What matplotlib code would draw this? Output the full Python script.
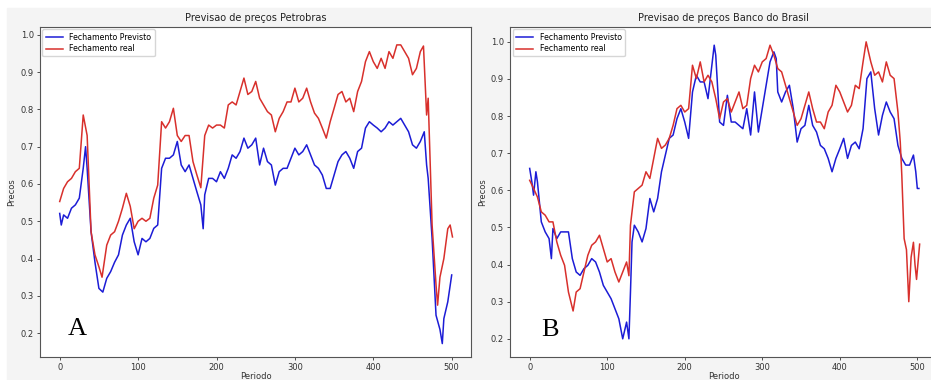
import matplotlib.pyplot as plt

# Petrobras - periodo e precos normalizados
petr_x_prev = [0, 2, 5, 10, 15, 20, 25, 30, 33, 35, 40, 45, 50, 55, 60, 65, 70, 75, 80, 85,
               90, 95, 100, 105, 110, 115, 120, 125, 130, 135, 140, 145, 150, 155, 160, 165,
               170, 175, 180, 183, 185, 190, 195, 200, 205, 210, 215, 220, 225, 230, 235,
               240, 245, 250, 255, 260, 265, 270, 275, 280, 285, 290, 295, 300, 305, 310,
               315, 320, 325, 330, 335, 340, 345, 350, 355, 360, 365, 370, 375, 380, 385,
               390, 395, 400, 405, 410, 415, 420, 425, 430, 435, 440, 445, 450, 455, 460,
               465, 468, 470, 475, 480, 485, 488, 490, 495, 500]
petr_prev = [0.521, 0.49, 0.517, 0.508, 0.535, 0.544, 0.562, 0.642, 0.70, 0.642, 0.472, 0.39,
             0.32, 0.31, 0.347, 0.365, 0.39, 0.41, 0.463, 0.49, 0.508, 0.445, 0.41, 0.454,
             0.445, 0.454, 0.481, 0.49, 0.642, 0.669, 0.669, 0.678, 0.714, 0.651, 0.633,
             0.651, 0.615, 0.579, 0.544, 0.48, 0.571, 0.615, 0.615, 0.606, 0.633, 0.615,
             0.642, 0.678, 0.669, 0.687, 0.723, 0.696, 0.705, 0.723, 0.651, 0.696, 0.66,
             0.651, 0.597, 0.633, 0.642, 0.642, 0.669, 0.696, 0.678, 0.687, 0.705, 0.678,
             0.651, 0.642, 0.624, 0.588, 0.588, 0.624, 0.66, 0.678, 0.687, 0.669, 0.642,
             0.687, 0.696, 0.75, 0.767, 0.758, 0.75, 0.74, 0.75, 0.767, 0.758, 0.767, 0.776,
             0.758, 0.74, 0.705, 0.696, 0.714, 0.74, 0.651, 0.615, 0.454, 0.248, 0.21,
             0.172, 0.239, 0.284, 0.356]

petr_x_real = [0, 5, 10, 15, 20, 25, 30, 35, 40, 45, 50, 54, 60, 65, 70, 75, 80, 85, 90, 95,
               100, 105, 110, 115, 120, 125, 130, 135, 140, 145, 150, 155, 160, 165, 170,
               175, 180, 185, 190, 195, 200, 205, 210, 215, 220, 225, 230, 235, 240, 245,
               250, 255, 260, 265, 270, 275, 280, 285, 290, 295, 300, 305, 310, 315, 320,
               325, 330, 335, 340, 345, 350, 355, 360, 365, 370, 375, 380, 385, 390, 395,
               400, 405, 410, 415, 420, 425, 430, 435, 440, 445, 450, 455, 460, 464, 468,
               470, 475, 480, 482, 485, 490, 495, 498, 501]
petr_real = [0.553, 0.588, 0.606, 0.615, 0.633, 0.642, 0.785, 0.73, 0.472, 0.41, 0.378,
             0.35, 0.436, 0.463, 0.472, 0.5, 0.535, 0.575, 0.54, 0.48, 0.5, 0.508, 0.5,
             0.508, 0.562, 0.597, 0.767, 0.75, 0.767, 0.803, 0.73, 0.714, 0.73, 0.73, 0.66,
             0.624, 0.59, 0.73, 0.758, 0.75, 0.758, 0.758, 0.75, 0.812, 0.82, 0.812, 0.848,
             0.884, 0.84, 0.848, 0.875, 0.83, 0.812, 0.794, 0.785, 0.74, 0.776, 0.794, 0.82,
             0.82, 0.857, 0.82, 0.83, 0.857, 0.82, 0.79, 0.776, 0.75, 0.723, 0.767, 0.803,
             0.84, 0.848, 0.82, 0.83, 0.794, 0.848, 0.875, 0.928, 0.955, 0.928, 0.91, 0.937,
             0.91, 0.955, 0.937, 0.973, 0.973, 0.955, 0.937, 0.893, 0.91, 0.955, 0.97, 0.785,
             0.83, 0.49, 0.33, 0.275, 0.35, 0.40, 0.48, 0.49, 0.458]

# Banco do Brasil
bb_x_prev = [0, 3, 5, 8, 10, 15, 20, 25, 28, 30, 35, 40, 45, 50, 55, 60, 65, 70, 75, 80,
             85, 90, 95, 100, 105, 110, 115, 120, 125, 128, 130, 132, 135, 140, 145, 150,
             155, 160, 165, 170, 175, 180, 185, 190, 195, 200, 205, 210, 215, 220, 225,
             230, 235, 238, 240, 245, 250, 255, 260, 265, 270, 275, 280, 285, 290, 295,
             300, 305, 310, 315, 318, 320, 325, 330, 335, 340, 345, 350, 355, 360, 365,
             370, 375, 380, 385, 390, 395, 400, 405, 410, 415, 420, 425, 430, 435, 440,
             445, 450, 455, 460, 465, 470, 475, 480, 485, 490, 495, 498, 500, 502]
bb_prev = [0.659, 0.62, 0.587, 0.65, 0.623, 0.515, 0.488, 0.47, 0.416, 0.497, 0.47, 0.488,
           0.488, 0.488, 0.416, 0.38, 0.371, 0.389, 0.398, 0.416, 0.407, 0.38, 0.344, 0.326,
           0.308, 0.281, 0.254, 0.20, 0.245, 0.20, 0.326, 0.461, 0.506, 0.488, 0.461,
           0.497, 0.578, 0.542, 0.578, 0.65, 0.695, 0.74, 0.749, 0.793, 0.82, 0.784, 0.74,
           0.865, 0.91, 0.892, 0.892, 0.847, 0.937, 0.991, 0.964, 0.784, 0.775, 0.856,
           0.784, 0.784, 0.775, 0.766, 0.82, 0.749, 0.865, 0.757, 0.82, 0.883, 0.946, 0.973,
           0.955, 0.865, 0.838, 0.865, 0.883, 0.82, 0.73, 0.766, 0.775, 0.829, 0.775, 0.757,
           0.721, 0.712, 0.686, 0.65, 0.686, 0.712, 0.74, 0.686, 0.721, 0.73, 0.712, 0.766,
           0.901, 0.919, 0.82, 0.749, 0.802, 0.838, 0.811, 0.793, 0.721, 0.686, 0.668,
           0.668, 0.695, 0.65, 0.605, 0.605]

bb_x_real = [0, 5, 10, 15, 20, 25, 30, 35, 40, 45, 50, 56, 60, 65, 70, 75, 80, 85, 90, 95,
             100, 105, 110, 115, 120, 125, 128, 130, 135, 140, 145, 150, 155, 160, 165,
             170, 175, 180, 185, 190, 195, 200, 205, 210, 215, 220, 225, 230, 235, 240,
             245, 250, 255, 260, 265, 270, 275, 280, 285, 290, 295, 300, 305, 310, 315,
             320, 325, 330, 335, 340, 345, 350, 355, 360, 365, 370, 375, 380, 385, 390,
             395, 400, 405, 410, 415, 420, 425, 430, 434, 440, 445, 450, 455, 460, 465,
             470, 475, 478, 480, 483, 486, 489, 492, 495, 497, 499, 503]
bb_real = [0.627, 0.605, 0.582, 0.542, 0.533, 0.515, 0.515, 0.461, 0.425, 0.398, 0.326,
           0.275, 0.326, 0.335, 0.38, 0.425, 0.452, 0.461, 0.479, 0.443, 0.407, 0.416, 0.38,
           0.353, 0.38, 0.407, 0.37, 0.506, 0.596, 0.605, 0.614, 0.65, 0.632, 0.686, 0.74,
           0.713, 0.722, 0.74, 0.775, 0.82, 0.829, 0.811, 0.82, 0.937, 0.901, 0.946, 0.892,
           0.91, 0.892, 0.847, 0.793, 0.838, 0.847, 0.811, 0.838, 0.865, 0.82, 0.829, 0.901,
           0.937, 0.919, 0.946, 0.955, 0.991, 0.964, 0.928, 0.919, 0.883, 0.847, 0.811,
           0.775, 0.793, 0.829, 0.865, 0.82, 0.784, 0.784, 0.766, 0.811, 0.829, 0.883,
           0.865, 0.838, 0.811, 0.829, 0.883, 0.874, 0.946, 1.0, 0.946, 0.91, 0.919, 0.892,
           0.946, 0.91, 0.901, 0.811, 0.73, 0.64, 0.47, 0.44, 0.30, 0.42, 0.46, 0.40, 0.36,
           0.455]

painel_cor = '#f4f4f4'
cor_prev = '#1c1cd6'
cor_real = '#d8302c'

fig = plt.figure(figsize=(9.31, 3.80), dpi=100, facecolor='white')
fig.patches.append(plt.Rectangle((7 / 931, 0), 1, 372 / 380, transform=fig.transFigure,
                                 color=painel_cor, zorder=-10))

paineis = [
    ([40.1 / 931, 23 / 380, 431.2 / 931, 330 / 380], 'Previsao de preços Petrobras',
     petr_x_prev, petr_prev, petr_x_real, petr_real, (0.136, 1.021), 'A', (0.065, 0.067)),
    ([510.3 / 931, 23 / 380, 426.4 / 931, 330 / 380], 'Previsao de preços Banco do Brasil',
     bb_x_prev, bb_prev, bb_x_real, bb_real, (0.151, 1.040), 'B', (0.072, 0.064)),
]

for pos, titulo, xp, yp, xr, yr, lim, letra, lpos in paineis:
    ax = fig.add_axes(pos)
    ax.plot(xp, yp, color=cor_prev, lw=1.1, label='Fechamento Previsto')
    ax.plot(xr, yr, color=cor_real, lw=1.1, label='Fechamento real')
    ax.set_xlim(-25, 525)
    ax.set_ylim(*lim)
    ax.set_xticks([0, 100, 200, 300, 400, 500])
    ax.set_yticks([0.2, 0.3, 0.4, 0.5, 0.6, 0.7, 0.8, 0.9, 1.0])
    ax.tick_params(labelsize=6, colors='#333333', length=2.5, width=0.6, pad=2)
    for s in ax.spines.values():
        s.set_color('#555555')
        s.set_linewidth(0.8)
    ax.set_title(titulo, fontsize=7, color='#222222', pad=4)
    ax.set_xlabel('Periodo', fontsize=6, color='#333333', labelpad=0)
    ax.set_ylabel('Precos', fontsize=6, color='#333333', labelpad=3)
    ax.legend(loc='upper left', fontsize=5.7, frameon=True, borderaxespad=0.3,
              handlelength=2.2, borderpad=0.4, labelspacing=0.35, fancybox=True,
              framealpha=0.8, edgecolor='#cccccc')
    ax.text(lpos[0], lpos[1], letra, transform=ax.transAxes, family='Liberation Serif',
            fontsize=19, color='black', ha='left', va='baseline')

fig.savefig('out.png', dpi=100, facecolor=fig.get_facecolor())
